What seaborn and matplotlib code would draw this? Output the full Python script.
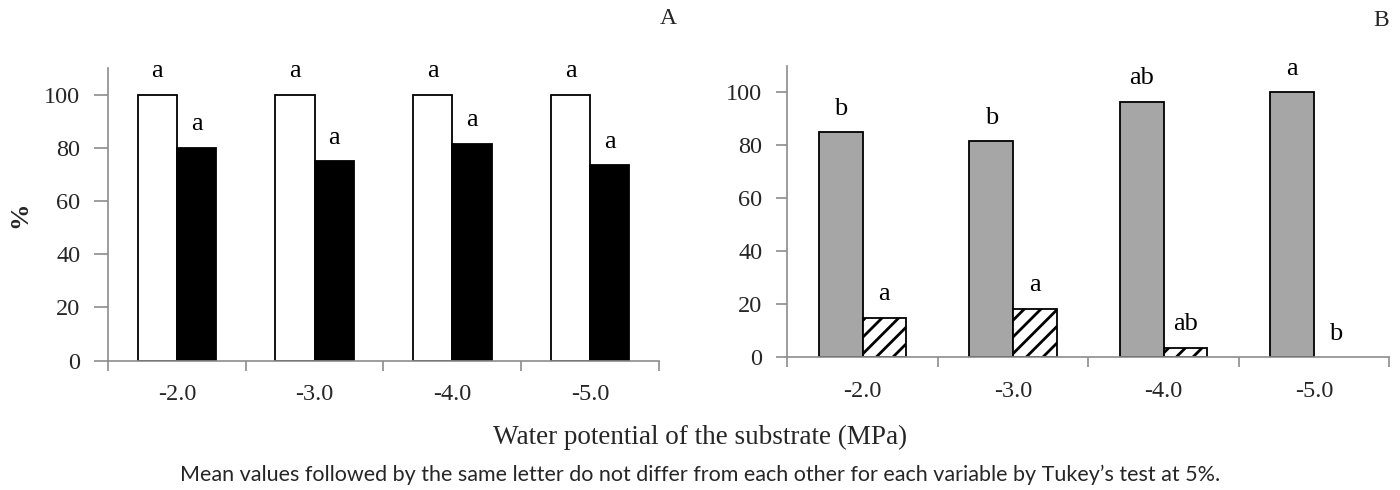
import matplotlib
matplotlib.use("Agg")
import matplotlib.pyplot as plt
import seaborn as sns
import pandas as pd

# ---- data ----
potentials = ["-2.0", "-3.0", "-4.0", "-5.0"]

a_series1 = [100, 100, 100, 100]
a_series2 = [80, 75, 81.5, 73.5]
a_letters1 = ["a", "a", "a", "a"]
a_letters2 = ["a", "a", "a", "a"]

b_series1 = [85, 81.5, 96.5, 100]
b_series2 = [15, 18.2, 3.5, 0]
b_letters1 = ["b", "b", "ab", "a"]
b_letters2 = ["a", "a", "ab", "b"]

yticks = [0, 20, 40, 60, 80, 100]
xlabel = "Water potential of the substrate (MPa)"
ylabel = "%"
caption = ("Mean values followed by the same letter do not differ from each other "
           "for each variable by Tukey\u2019s test at 5%.")

sns.set_theme(style="white")
SERIF = ["Liberation Serif", "DejaVu Serif"]
plt.rcParams["font.family"] = SERIF
plt.rcParams["hatch.linewidth"] = 2.0

spine_col = "#8c8c8c"

fig = plt.figure(figsize=(14, 4.9), dpi=100)
axA = fig.add_axes([0.0771, 0.2639, 0.3936, 0.5973])
axB = fig.add_axes([0.5624, 0.2708, 0.4300, 0.5945])


def make_df(s1, s2):
    return pd.DataFrame({
        "potential": potentials + potentials,
        "series": ["s1"] * len(potentials) + ["s2"] * len(potentials),
        "value": list(s1) + list(s2),
    })


def draw(ax, s1, s2, l1, l2, palette, width, ytick_len, hatch2=None):
    df = make_df(s1, s2)
    sns.barplot(data=df, x="potential", y="value", hue="series",
                order=potentials, hue_order=["s1", "s2"], palette=palette,
                width=width, gap=0, edgecolor="black", linewidth=1.3,
                legend=False, ax=ax, errorbar=None, saturation=1)
    if hatch2 is not None:
        for p in ax.containers[1]:
            p.set_hatch(hatch2)
    for cont, letters in zip(ax.containers, [l1, l2]):
        for p, lt in zip(cont, letters):
            if p.get_height() == 0:
                p.set_linewidth(0)
            ax.annotate(lt, (p.get_x() + p.get_width() / 2, p.get_height()),
                        xytext=(0, 17), textcoords="offset points",
                        ha="center", va="center", fontsize=19, color="black",
                        family=SERIF)
    ax.set_xlim(-0.5, len(potentials) - 0.5)
    ax.set_ylim(0, 110)
    ax.set_yticks(yticks)
    ax.set_xticks([i - 0.5 for i in range(len(potentials) + 1)], minor=True)
    ax.tick_params(axis="x", which="major", length=0, pad=17, labelsize=17.5)
    ax.tick_params(axis="x", which="minor", length=7, width=1.2,
                   color=spine_col, direction="out", bottom=True)
    ax.tick_params(axis="y", length=ytick_len, width=1.2, color=spine_col,
                   direction="out", left=True, pad=10, labelsize=17.5)
    for lbl in ax.get_xticklabels() + ax.get_yticklabels():
        lbl.set_family(SERIF)
    for s in ["top", "right"]:
        ax.spines[s].set_visible(False)
    for s in ["left", "bottom"]:
        ax.spines[s].set_color(spine_col)
        ax.spines[s].set_linewidth(1.2)
    ax.set_xlabel("")
    ax.set_ylabel("")


draw(axA, a_series1, a_series2, a_letters1, a_letters2,
     {"s1": "white", "s2": "black"}, 0.57, 10)
draw(axB, b_series1, b_series2, b_letters1, b_letters2,
     {"s1": "#a6a6a6", "s2": "white"}, 0.58, 8, hatch2="//")

fig.text(668 / 1400, 1 - 18 / 490, "A", ha="center", va="center", fontsize=17,
         family=SERIF)
fig.text(1381 / 1400, 1 - 20 / 490, "B", ha="center", va="center", fontsize=17,
         family=SERIF)
fig.text(20 / 1400, 1 - 215 / 490, ylabel, rotation=90, ha="center",
         va="center", fontsize=19, fontweight="bold", family=SERIF)
fig.text(0.5, 1 - 437 / 490, xlabel, ha="center", va="center", fontsize=19.5,
         family=SERIF)
fig.text(0.5, 1 - 475 / 490, caption, ha="center", va="center", fontsize=15.5,
         family=["Lato", "DejaVu Sans"])

fig.savefig("out.png", dpi=100)
